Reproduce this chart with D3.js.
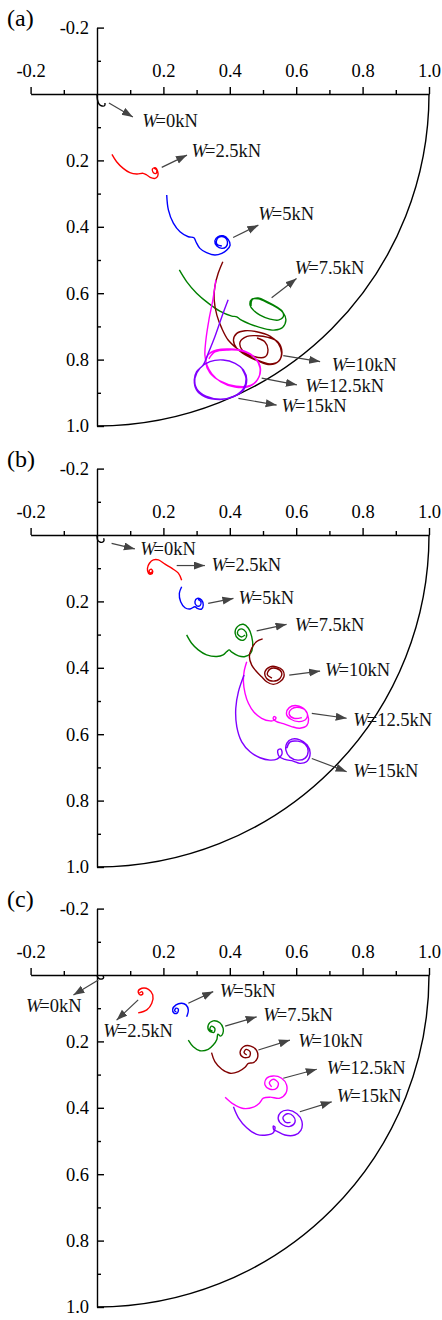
<!DOCTYPE html>
<html>
<head>
<meta charset="utf-8">
<script src="https://cdn.jsdelivr.net/npm/d3@7"></script>
<style>
  body { margin: 0; background: #fff; }
  svg { display: block; }
</style>
</head>
<body>
<div id="chart"></div>
<script>
const panelNames = ['(a)', '(b)', '(c)'];
const loads = ['0', '2.5', '5', '7.5', '10', '12.5', '15'];

const xMajor = [-0.2, 0.2, 0.4, 0.6, 0.8, 1.0];
const xMinor = [-0.1, 0.1, 0.3, 0.5, 0.7, 0.9];
const yMajor = [-0.2, 0.2, 0.4, 0.6, 0.8, 1.0];
const yMinor = [-0.1, 0.1, 0.3, 0.5, 0.7, 0.9];

// trajectories, panel (a), one list per load
const trajA = [
  [[0,0.003],[0.0015,0.018],[0.006,0.030],[0.015,0.036],[0.023,0.035],[0.024,0.027]],
  [[0.045,0.182],[0.059,0.204],[0.079,0.224],[0.099,0.237],[0.120,0.241],[0.139,0.239],[0.150,0.244],[0.160,0.251],[0.175,0.254],[0.183,0.247],[0.183,0.234],[0.175,0.222],[0.167,0.226],[0.170,0.237],[0.178,0.239],[0.180,0.229],[0.172,0.223]],
  [[0.210,0.304],[0.215,0.349],[0.230,0.389],[0.250,0.415],[0.275,0.430],[0.292,0.433],[0.298,0.445],[0.310,0.465],[0.330,0.478],[0.355,0.485],[0.376,0.480],[0.391,0.470],[0.401,0.455],[0.395,0.438],[0.380,0.427],[0.364,0.430],[0.355,0.442],[0.361,0.458],[0.376,0.465],[0.389,0.460],[0.393,0.445],[0.386,0.433],[0.370,0.430],[0.361,0.438],[0.361,0.452],[0.376,0.458]],
  [[0.248,0.530],[0.270,0.565],[0.300,0.600],[0.335,0.630],[0.370,0.654],[0.406,0.669],[0.421,0.671],[0.431,0.679],[0.461,0.693],[0.501,0.706],[0.536,0.711],[0.559,0.703],[0.569,0.681],[0.561,0.659],[0.541,0.643],[0.516,0.630],[0.486,0.617],[0.466,0.618],[0.461,0.636],[0.471,0.651],[0.491,0.666],[0.521,0.678],[0.546,0.681],[0.561,0.671],[0.559,0.656],[0.542,0.642],[0.515,0.627],[0.485,0.614],[0.467,0.620],[0.464,0.639]],
  [[0.379,0.505],[0.365,0.540],[0.355,0.580],[0.353,0.620],[0.361,0.666],[0.376,0.706],[0.395,0.741],[0.421,0.766],[0.451,0.786],[0.481,0.801],[0.521,0.813],[0.546,0.806],[0.556,0.781],[0.546,0.751],[0.521,0.729],[0.481,0.716],[0.446,0.713],[0.421,0.721],[0.411,0.741],[0.421,0.766],[0.451,0.788],[0.485,0.804],[0.521,0.815],[0.548,0.804],[0.557,0.777],[0.545,0.747],[0.515,0.733],[0.482,0.728],[0.452,0.730],[0.431,0.747],[0.437,0.771],[0.467,0.789],[0.506,0.792],[0.515,0.771],[0.506,0.747],[0.482,0.735]],
  [[0.358,0.560],[0.349,0.620],[0.337,0.681],[0.328,0.741],[0.325,0.786],[0.331,0.816],[0.346,0.843],[0.373,0.867],[0.416,0.883],[0.461,0.880],[0.485,0.858],[0.491,0.825],[0.476,0.795],[0.443,0.774],[0.401,0.768],[0.361,0.771],[0.334,0.786],[0.328,0.810],[0.340,0.840],[0.370,0.864],[0.419,0.880],[0.464,0.877],[0.488,0.852],[0.491,0.819],[0.473,0.792],[0.437,0.774],[0.395,0.771],[0.355,0.777],[0.337,0.798]],
  [[0.395,0.620],[0.376,0.671],[0.355,0.731],[0.335,0.781],[0.320,0.816],[0.300,0.836],[0.293,0.861],[0.300,0.892],[0.325,0.912],[0.370,0.920],[0.411,0.912],[0.441,0.892],[0.451,0.861],[0.441,0.831],[0.416,0.811],[0.380,0.801],[0.340,0.806],[0.310,0.826],[0.295,0.856],[0.301,0.889],[0.328,0.910],[0.373,0.919],[0.413,0.910],[0.440,0.889],[0.449,0.858],[0.437,0.828]]
];

// panel (b)
const trajB = [
  [[0,0.003],[0.002,0.015],[0.008,0.021],[0.015,0.022],[0.021,0.017],[0.020,0.010]],
  [[0.255,0.136],[0.245,0.115],[0.225,0.100],[0.205,0.088],[0.185,0.075],[0.170,0.075],[0.158,0.085],[0.152,0.100],[0.155,0.115],[0.163,0.118],[0.168,0.110],[0.163,0.103],[0.157,0.108],[0.160,0.114],[0.166,0.111]],
  [[0.255,0.156],[0.248,0.176],[0.252,0.201],[0.265,0.219],[0.280,0.223],[0.295,0.216],[0.302,0.221],[0.315,0.223],[0.320,0.211],[0.315,0.196],[0.302,0.191],[0.295,0.201],[0.300,0.213],[0.310,0.213],[0.313,0.201],[0.304,0.194]],
  [[0.270,0.301],[0.285,0.326],[0.305,0.346],[0.330,0.361],[0.361,0.366],[0.380,0.361],[0.391,0.351],[0.398,0.346],[0.406,0.353],[0.426,0.364],[0.446,0.366],[0.463,0.356],[0.469,0.336],[0.466,0.306],[0.456,0.281],[0.441,0.269],[0.423,0.276],[0.416,0.296],[0.426,0.313],[0.443,0.316],[0.451,0.301],[0.443,0.286],[0.429,0.284],[0.423,0.296],[0.434,0.307],[0.446,0.301]],
  [[0.499,0.313],[0.481,0.321],[0.466,0.341],[0.459,0.367],[0.466,0.392],[0.481,0.412],[0.496,0.427],[0.511,0.442],[0.531,0.450],[0.551,0.442],[0.563,0.427],[0.559,0.407],[0.541,0.397],[0.521,0.397],[0.506,0.412],[0.511,0.432],[0.531,0.440],[0.551,0.432],[0.556,0.414],[0.541,0.402],[0.521,0.404],[0.513,0.420],[0.527,0.431]],
  [[0.451,0.382],[0.443,0.412],[0.441,0.442],[0.446,0.477],[0.456,0.507],[0.473,0.534],[0.496,0.552],[0.521,0.560],[0.534,0.558],[0.539,0.550],[0.533,0.547],[0.531,0.554],[0.541,0.562],[0.561,0.568],[0.586,0.577],[0.611,0.582],[0.632,0.574],[0.637,0.552],[0.627,0.527],[0.602,0.514],[0.579,0.520],[0.571,0.540],[0.584,0.555],[0.609,0.562],[0.630,0.554],[0.632,0.534],[0.611,0.520],[0.586,0.524],[0.579,0.540],[0.593,0.552],[0.617,0.550]],
  [[0.443,0.422],[0.426,0.472],[0.418,0.522],[0.421,0.577],[0.436,0.623],[0.461,0.653],[0.491,0.671],[0.521,0.678],[0.542,0.675],[0.557,0.660],[0.554,0.645],[0.545,0.648],[0.548,0.666],[0.566,0.676],[0.591,0.681],[0.611,0.688],[0.632,0.682],[0.642,0.657],[0.633,0.632],[0.611,0.617],[0.587,0.615],[0.572,0.627],[0.569,0.648],[0.581,0.669],[0.605,0.678],[0.627,0.672],[0.636,0.651],[0.627,0.630],[0.605,0.621],[0.581,0.624],[0.572,0.642]]
];

// panel (c)
const trajC = [
  [[0,0.003],[0.005,0.010],[0.015,0.012],[0.020,0.008],[0.018,0.003]],
  [[0.124,0.114],[0.150,0.105],[0.165,0.085],[0.168,0.060],[0.155,0.043],[0.135,0.040],[0.124,0.050],[0.130,0.060],[0.138,0.057],[0.135,0.050],[0.128,0.054]],
  [[0.270,0.126],[0.275,0.105],[0.268,0.090],[0.255,0.085],[0.238,0.090],[0.228,0.103],[0.232,0.115],[0.242,0.114],[0.245,0.103],[0.238,0.100],[0.234,0.108],[0.239,0.111]],
  [[0.275,0.196],[0.290,0.216],[0.310,0.228],[0.335,0.224],[0.350,0.211],[0.361,0.194],[0.364,0.178],[0.372,0.184],[0.379,0.176],[0.380,0.161],[0.370,0.144],[0.350,0.138],[0.335,0.151],[0.338,0.168],[0.352,0.173],[0.355,0.161],[0.345,0.154],[0.340,0.164],[0.348,0.169]],
  [[0.345,0.234],[0.355,0.261],[0.376,0.284],[0.401,0.296],[0.426,0.291],[0.446,0.278],[0.456,0.266],[0.471,0.264],[0.483,0.251],[0.481,0.228],[0.463,0.214],[0.441,0.216],[0.431,0.234],[0.441,0.248],[0.459,0.246],[0.461,0.231],[0.449,0.224],[0.443,0.234],[0.451,0.241]],
  [[0.386,0.368],[0.411,0.389],[0.441,0.402],[0.471,0.398],[0.489,0.386],[0.501,0.371],[0.521,0.368],[0.551,0.371],[0.569,0.356],[0.571,0.331],[0.556,0.311],[0.531,0.304],[0.511,0.311],[0.506,0.331],[0.521,0.344],[0.541,0.341],[0.546,0.325],[0.531,0.314],[0.519,0.325],[0.526,0.337]],
  [[0.411,0.397],[0.426,0.430],[0.451,0.460],[0.481,0.480],[0.511,0.482],[0.531,0.475],[0.536,0.458],[0.531,0.455],[0.533,0.467],[0.541,0.470],[0.566,0.482],[0.596,0.482],[0.614,0.468],[0.617,0.440],[0.602,0.418],[0.576,0.407],[0.553,0.414],[0.546,0.434],[0.559,0.451],[0.581,0.456],[0.596,0.444],[0.591,0.425],[0.573,0.418],[0.560,0.430],[0.569,0.444],[0.583,0.444]]
];

// label arrows [x1, y1, x2, y2] and label anchors [x, y], in axis units
const arrowA = [[0.036,0.027,0.108,0.069],[0.195,0.221,0.271,0.184],[0.410,0.432,0.486,0.395],[0.526,0.614,0.601,0.556],[0.561,0.788,0.672,0.806],[0.496,0.856,0.602,0.876],[0.426,0.917,0.541,0.937]];
const labelA = [[0.136,0.100],[0.285,0.190],[0.486,0.380],[0.596,0.542],[0.707,0.834],[0.627,0.898],[0.556,0.958]];
const arrowB = [[0.044,0.025,0.114,0.042],[0.240,0.092,0.325,0.092],[0.335,0.206,0.411,0.191],[0.481,0.289,0.571,0.269],[0.579,0.422,0.672,0.410],[0.647,0.537,0.752,0.552],[0.647,0.673,0.752,0.713]];
const labelB = [[0.130,0.060],[0.345,0.108],[0.426,0.208],[0.596,0.289],[0.687,0.425],[0.772,0.575],[0.772,0.729]];
const arrowC = [[0.004,0.015,-0.071,0.060],[0.124,0.075,0.059,0.136],[0.275,0.085,0.350,0.050],[0.386,0.154,0.481,0.126],[0.486,0.226,0.581,0.196],[0.561,0.311,0.662,0.284],[0.611,0.412,0.707,0.382]];
const labelC = [[-0.214,0.111],[0.019,0.187],[0.370,0.066],[0.501,0.139],[0.606,0.217],[0.692,0.298],[0.722,0.382]];

const colors = ['#000000', '#ff0000', '#0000ff', '#008000', '#800000', '#ff00ff', '#8000ff'];
const panelTops = [94, 535, 975];

const width = 442, height = 1320;
const unit = 332;
const font = 'Liberation Serif, Times New Roman, serif';

const svg = d3.select('#chart').append('svg')
  .attr('width', width)
  .attr('height', height)
  .style('background', '#fff');

svg.append('defs').append('marker')
  .attr('id', 'head')
  .attr('markerUnits', 'userSpaceOnUse')
  .attr('markerWidth', 12)
  .attr('markerHeight', 10)
  .attr('refX', 11)
  .attr('refY', 4)
  .attr('orient', 'auto')
  .append('path')
  .attr('d', 'M0,0 L11,4 L0,8 Z')
  .attr('fill', '#444');

const xScale = d3.scaleLinear()
  .domain([0, 1])
  .range([97, 97 + unit]);

const line = d3.line()
  .curve(d3.curveCatmullRom.alpha(0.5));

const trajs = [trajA, trajB, trajC];
const arrows = [arrowA, arrowB, arrowC];
const labels = [labelA, labelB, labelC];

panelTops.forEach((top, p) => {

  let yScale = d3.scaleLinear()
    .domain([0, 1])
    .range([top, top + unit]);

  let g = svg.append('g');

  // x axis
  g.append('g')
    .attr('transform', `translate(0,${top})`)
    .call(d3.axisTop(xScale.copy().domain([-0.2, 1.0]).range([xScale(-0.2), xScale(1.0)]))
      .tickValues(xMajor).tickSize(7).tickSizeOuter(0).tickPadding(10)
      .tickFormat(d => d.toFixed(1)))
    .call(a => a.attr('font-family', font).attr('font-size', 18.5))
    .call(a => a.selectAll('line,path').attr('stroke', '#000').attr('stroke-width', 1.4))
    .call(a => a.selectAll('text').attr('fill', '#000'));

  g.append('g')
    .attr('transform', `translate(0,${top})`)
    .call(d3.axisTop(xScale).tickValues(xMinor).tickSize(4).tickSizeOuter(0).tickFormat(''))
    .call(a => a.select('.domain').remove())
    .call(a => a.selectAll('line').attr('stroke', '#000').attr('stroke-width', 1.4));

  // y axis, ticks pointing inward
  g.append('g')
    .attr('transform', `translate(${xScale(0)},0)`)
    .call(d3.axisLeft(yScale.copy().domain([-0.2, 1.0]).range([yScale(-0.2), yScale(1.0)]))
      .tickValues(yMajor).tickSize(-7).tickSizeOuter(0).tickPadding(8)
      .tickFormat(d => d.toFixed(1)))
    .call(a => a.attr('font-family', font).attr('font-size', 18.5))
    .call(a => a.selectAll('line,path').attr('stroke', '#000').attr('stroke-width', 1.4))
    .call(a => a.selectAll('text').attr('fill', '#000'));

  g.append('g')
    .attr('transform', `translate(${xScale(0)},0)`)
    .call(d3.axisLeft(yScale).tickValues(yMinor).tickSize(-4).tickSizeOuter(0).tickFormat(''))
    .call(a => a.select('.domain').remove())
    .call(a => a.selectAll('line').attr('stroke', '#000').attr('stroke-width', 1.4));

  // unit quarter circle
  let r = xScale(1) - xScale(0);
  g.append('path')
    .attr('d', `M${xScale(1)},${yScale(0)} A${r},${yScale(1) - yScale(0)} 0 0 1 ${xScale(0)},${yScale(1)}`)
    .attr('fill', 'none')
    .attr('stroke', '#000')
    .attr('stroke-width', 1.4);

  // panel tag
  g.append('text')
    .attr('x', 7)
    .attr('y', top - 68)
    .attr('font-family', font)
    .attr('font-size', 24)
    .text(panelNames[p]);

  // trajectories
  line.x(d => xScale(d[0])).y(d => yScale(d[1]));

  g.append('g')
    .selectAll('path')
    .data(trajs[p])
    .enter()
    .append('path')
    .attr('d', d => line(d))
    .attr('fill', 'none')
    .attr('stroke', (d, i) => colors[i])
    .attr('stroke-width', 1.4);

  // arrows
  g.append('g')
    .selectAll('line')
    .data(arrows[p])
    .enter()
    .append('line')
    .attr('x1', d => xScale(d[0]))
    .attr('y1', d => yScale(d[1]))
    .attr('x2', d => xScale(d[2]))
    .attr('y2', d => yScale(d[3]))
    .attr('stroke', '#444')
    .attr('stroke-width', 1.2)
    .attr('marker-end', 'url(#head)');

  // labels
  let lab = g.append('g')
    .selectAll('text')
    .data(labels[p])
    .enter()
    .append('text')
    .attr('x', d => xScale(d[0]))
    .attr('y', d => yScale(d[1]))
    .attr('font-family', font)
    .attr('font-size', 18.5)
    .attr('fill', '#111');

  lab.append('tspan').attr('font-style', 'italic').text('W');
  lab.append('tspan').attr('dx', -2).text((d, i) => '=' + loads[i] + 'kN');
});
</script>
</body>
</html>
